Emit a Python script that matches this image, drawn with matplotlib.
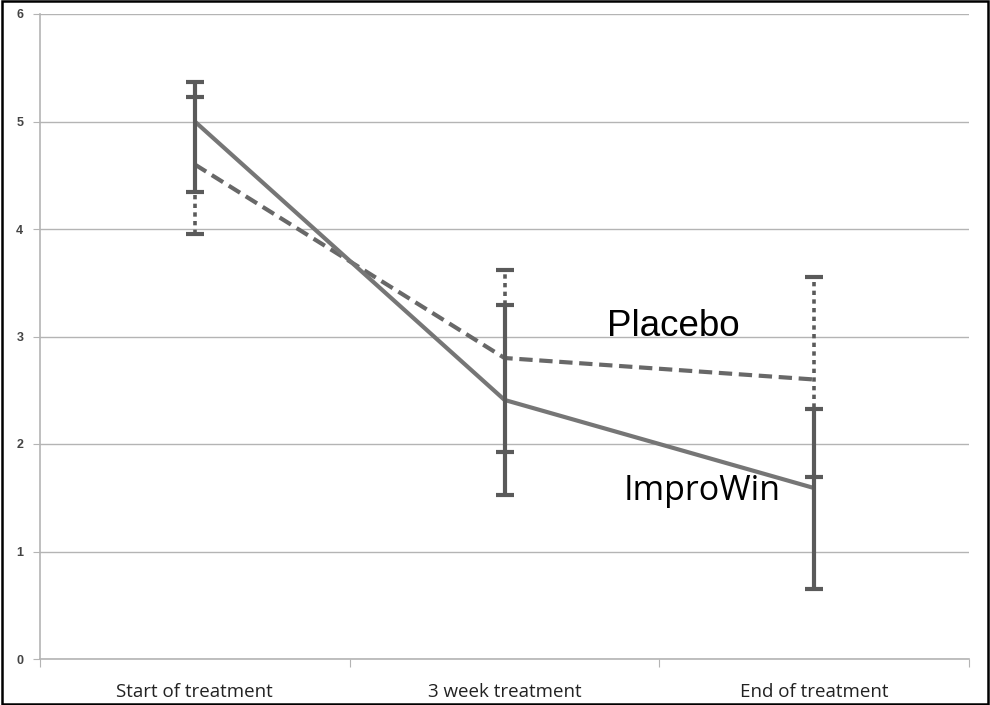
import matplotlib
matplotlib.use("Agg")
import matplotlib.pyplot as plt
from matplotlib.patches import Rectangle
import numpy as np

categories = ["Start of treatment", "3 week treatment", "End of treatment"]
y_ticks = [0, 1, 2, 3, 4, 5, 6]

improwin_mean = [5.00, 2.41, 1.59]
improwin_upper = [5.37, 3.29, 2.33]
improwin_lower = [4.34, 1.53, 0.65]

placebo_mean = [4.60, 2.80, 2.60]
placebo_upper = [5.23, 3.62, 3.55]
placebo_lower = [3.95, 1.93, 1.69]

LINE_GREY = "#767676"
DASH_GREY = "#686868"
BAR_GREY = "#5a5a5a"
GRID_GREY = "#b4b4b4"

fig = plt.figure(figsize=(9.9, 7.05), dpi=100)
ax = fig.add_axes([40 / 990, 46 / 705, 929 / 990, 645 / 705])

x = np.arange(len(categories))


def _err(mean, lower, upper):
    mean = np.asarray(mean)
    return np.vstack([mean - np.asarray(lower), np.asarray(upper) - mean])


# placebo: dashed line, dotted error bars
ax.plot(x, placebo_mean, color=DASH_GREY, lw=3, dashes=(3.2, 1.6), zorder=3)
eb = ax.errorbar(x, placebo_mean, yerr=_err(placebo_mean, placebo_lower, placebo_upper),
                 fmt="none", ecolor=BAR_GREY, elinewidth=2.6, capsize=6.5, capthick=3, zorder=3)
eb[2][0].set_linestyle((0, (1.2, 1.2)))

# improwin: solid line, solid error bars
ax.plot(x, improwin_mean, color=LINE_GREY, lw=3, solid_capstyle="butt", zorder=4)
ax.errorbar(x, improwin_mean, yerr=_err(improwin_mean, improwin_lower, improwin_upper),
            fmt="none", ecolor=BAR_GREY, elinewidth=3, capsize=6.5, capthick=3, zorder=4)

ax.text(1.33, 3.09, "Placebo", fontsize=26.5, family=["Liberation Sans", "DejaVu Sans"],
        ha="left", va="center")
ax.text(1.385, 1.56, "ImproWin", fontsize=24.5, family=["Open Sans", "DejaVu Sans"],
        ha="left", va="center")

ax.set_xlim(-0.5, 2.5)
ax.set_ylim(0, 6)
ax.set_yticks(y_ticks)
ax.set_yticklabels([str(t) for t in y_ticks], fontsize=9, fontweight="bold", color="#444444",
                   family=["Liberation Sans", "DejaVu Sans"])
ax.yaxis.grid(True, color=GRID_GREY, lw=1)
ax.set_axisbelow(True)

ax.set_xticks([-0.5, 0.5, 1.5, 2.5])
ax.set_xticklabels([])
ax.set_xticks(x, minor=True)
ax.set_xticklabels(categories, minor=True, fontsize=13.5, color="#222222",
                   family=["Liberation Sans Narrow", "Open Sans", "DejaVu Sans"])
ax.tick_params(axis="x", which="major", length=6, color=GRID_GREY, direction="out")
ax.tick_params(axis="x", which="minor", length=0, pad=17)
ax.tick_params(axis="y", length=5, color=GRID_GREY, pad=7)

for side in ("top", "right"):
    ax.spines[side].set_visible(False)
for side in ("left", "bottom"):
    ax.spines[side].set_color(GRID_GREY)
    ax.spines[side].set_linewidth(1.2)

fig.patches.append(Rectangle((0.002, 0.002), 0.996, 0.996, transform=fig.transFigure,
                             fill=False, edgecolor="black", lw=1.8))

fig.savefig("out.png", dpi=100)
